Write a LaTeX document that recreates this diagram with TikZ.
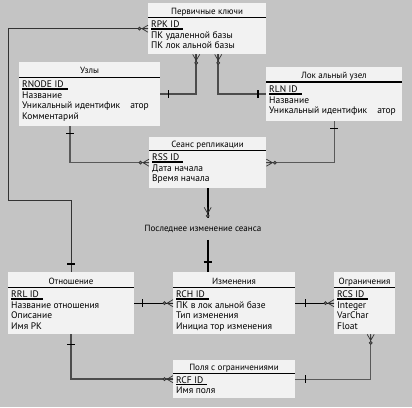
\documentclass[tikz,border=0pt]{standalone}
\usepackage{fontspec}
\setmainfont{PT Sans}
\usetikzlibrary{calc}
\newcommand\keyid[1]{\setbox0\hbox{#1\kern4pt}\rlap{\rule[-2pt]{\wd0}{1.1pt}}#1}
\definecolor{bgc}{HTML}{C4C4C4}
\definecolor{boxc}{HTML}{F2F2F2}
\tikzset{
  ebox/.style={draw=none, fill=boxc, inner sep=0pt, anchor=north west},
  etitle/.style={anchor=base, inner sep=0pt, font=\fontsize{9}{10}\selectfont},
  erow/.style={anchor=base west, inner sep=0pt, font=\fontsize{9.5}{10}\selectfont},
  erule/.style={line width=1.6pt, black},
  conthin/.style={line width=0.8pt, black!80},
  conmid/.style={line width=1.4pt, black!65},
  conthick/.style={line width=1.9pt, black!70},
  conblack/.style={line width=1.9pt, black},
  mk/.style={line width=0.7pt, black!80},
  crow/.pic={\draw[mk] (0,-3.5) -- (6,0) -- (0,3.5) (0,0) -- (6,0);
             \draw[mk, fill=black!55] (8.5,0) circle (1.5);},
  onebar/.pic={\draw[line width=1.5pt, black] (0,-4) -- (0,4);}
}
\begin{document}
\begin{tikzpicture}[x=1pt,y=-1pt]
\fill[bgc] (0,0) rectangle (412,407);
\useasboundingbox (0,0) rectangle (412,407);

% Первичные ключи
\node[ebox, minimum width=118pt, minimum height=51pt] (pk) at (148,3) {};
\node[etitle] (pkt) at (207,14) {Первичные ключи};
\draw[erule] (148,17.5) -- (266,17.5);
\node[erow] (pk1) at (151,27.5) {\keyid{RPK ID}};
\node[erow] (pk2) at (151,38) {ПК удаленной базы};
\node[erow] (pk3) at (151,48.5) {ПК лок альной базы};

% Узлы
\node[ebox, minimum width=141pt, minimum height=64pt] (uz) at (19,62) {};
\node[etitle] (uzt) at (89.5,73.5) {Узлы};
\draw[erule] (19,77.5) -- (160,77.5);
\node[erow] (uz1) at (22,87.5) {\keyid{RNODE ID}};
\node[erow] (uz2) at (22,98) {Название};
\node[erow] (uz3) at (22,108.5) {Уникальный идентифик\hspace{10pt}атор};
\node[erow] (uz4) at (22,119) {Комментарий};

% Локальный узел
\node[ebox, minimum width=136pt, minimum height=54pt] (lok) at (266,67) {};
\node[etitle] (lokt) at (334,78.5) {Лок альный узел};
\draw[erule] (266,82) -- (402,82);
\node[erow] (lok1) at (269,92.5) {\keyid{RLN ID}};
\node[erow] (lok2) at (269,103) {Название};
\node[erow] (lok3) at (269,113.5) {Уникальный идентифик\hspace{10pt}атор};

% Сеанс репликации
\node[ebox, minimum width=117pt, minimum height=51pt] (ses) at (149,137) {};
\node[etitle] (sest) at (207.5,147) {Сеанс репликации};
\draw[erule] (149,150.5) -- (266,150.5);
\node[erow] (ses1) at (152,160.5) {\keyid{RSS ID}};
\node[erow] (ses2) at (152,171) {Дата начала};
\node[erow] (ses3) at (152,181.5) {Время начала};

% Отношение
\node[ebox, minimum width=126pt, minimum height=62pt] (otn) at (8,272) {};
\node[etitle] (otnt) at (71,284.5) {Отношение};
\draw[erule] (8,287.5) -- (134,287.5);
\node[erow] (otn1) at (11,297.5) {\keyid{RRL ID}};
\node[erow] (otn2) at (11,308) {Название отношения};
\node[erow] (otn3) at (11,318.5) {Описание};
\node[erow] (otn4) at (11,329) {Имя PK};

% Изменения
\node[ebox, minimum width=122pt, minimum height=62pt] (izm) at (173,272) {};
\node[etitle] (izmt) at (234,284.5) {Изменения};
\draw[erule] (173,287.5) -- (295,287.5);
\node[erow] (izm1) at (176,297.5) {\keyid{RCH ID}};
\node[erow] (izm2) at (176,308) {ПК в лок альной базе};
\node[erow] (izm3) at (176,318.5) {Тип изменения};
\node[erow] (izm4) at (176,329) {Инициа тор изменения};

% Ограничения
\node[ebox, minimum width=61pt, minimum height=62pt] (ogr) at (334,272) {};
\node[etitle] (ogrt) at (364.5,284.5) {Ограничения};
\draw[erule] (334,287.5) -- (395,287.5);
\node[erow] (ogr1) at (337,297.5) {\keyid{RCS ID}};
\node[erow] (ogr2) at (337,308) {Integer};
\node[erow] (ogr3) at (337,318.5) {VarChar};
\node[erow] (ogr4) at (337,329) {Float};

% Поля с ограничениями
\node[ebox, minimum width=122pt, minimum height=38pt] (pol) at (173,360) {};
\node[etitle] (polt) at (234,370.5) {Поля с ограничениями};
\draw[erule] (173,373.5) -- (295,373.5);
\node[erow] (pol1) at (176,383) {\keyid{RCF ID}};
\node[erow] (pol2) at (176,393.5) {Имя поля};

% label
\node[inner sep=1pt, font=\fontsize{9}{10}\selectfont] (lbl) at (203,229) {Последнее изменение сеанса};

% connectors
\coordinate (j1) at (8,200);
\draw[conthin] (pk.west) -| (j1) -| (otn.north);
\pic[rotate=180] at (pk.west) {crow};
\pic[rotate=90] at ($(otn.north)+(0,-8)$) {onebar};

\coordinate (pkl) at ($(pk.south)+(-11,0)$);
\coordinate (pkr) at ($(pk.south)+(11,0)$);
\draw[conthick] (pkl) |- (uz.east);
\draw[conthick] (pkr) |- (lok.west);
\pic[rotate=-90] at (pkl) {crow};
\pic[rotate=-90] at (pkr) {crow};
\pic at ($(uz.east)+(8,0)$) {onebar};
\pic at ($(lok.west)+(-8,0)$) {onebar};

\coordinate (uzb) at ($(uz.south west)+(51,0)$);
\draw[conmid] (uzb) |- (ses.west);
\draw[conmid] (lok.south) |- (ses.east);
\pic[rotate=90] at ($(uzb)+(0,7)$) {onebar};
\pic[rotate=90] at ($(lok.south)+(0,7)$) {onebar};
\pic[rotate=180] at (ses.west) {crow};
\pic at (ses.east) {crow};

\coordinate (sa) at ($(ses.south)+(0,30)$);
\coordinate (sb) at (ses.south |- izm.north);
\coordinate (sm) at ($(ses.south)+(0,19)$);
\draw[conblack] (ses.south) -- (sa);
\draw[conblack] (lbl.south -| sb) ++(0,6) -- (sb);
\pic[rotate=-90] at (sm) {crow};
\pic[rotate=90] at ($(sb)+(0,-10)$) {onebar};

\draw[conthin, black] (otn.east) -- (izm.west);
\draw[conthin, black] (izm.east) -- (ogr.west);
\pic at ($(otn.east)+(8,0)$) {onebar};
\pic at ($(izm.east)+(10,0)$) {onebar};
\pic[rotate=180] at (izm.west) {crow};
\pic[rotate=180] at (ogr.west) {crow};

\draw[conthick] (otn.south) |- (pol.west);
\pic[rotate=90] at ($(otn.south)+(0,10)$) {onebar};
\pic[rotate=180] at (pol.west) {crow};

\coordinate (ogb) at ($(ogr.south)+(6,0)$);
\draw[conmid] (ogb) |- (pol.east);
\pic[rotate=-90] at (ogb) {crow};
\pic at ($(pol.east)+(10,0)$) {onebar};
\end{tikzpicture}
\end{document}
